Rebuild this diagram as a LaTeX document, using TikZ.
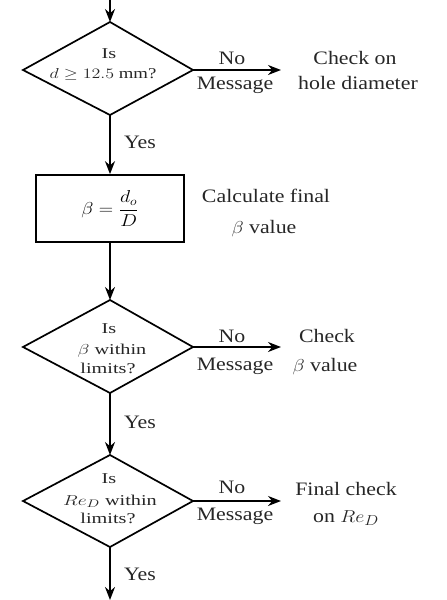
\documentclass[tikz,border=0pt]{standalone}
\usepackage{fontspec}
\setmainfont{Liberation Serif}
\usetikzlibrary{shapes.geometric,arrows.meta}
\newcommand{\wlbl}[1]{\scalebox{1.15}[1]{#1}}
\newcommand{\wsml}[1]{\scalebox{1.35}[1]{#1}}
\begin{document}
\begin{tikzpicture}[x=1pt,y=-1pt,
  line width=1.7pt,
  arr/.style={-{Stealth[length=13pt,width=10pt]}},
  lbl/.style={font=\fontsize{19}{21}\selectfont, text=black!85, inner sep=0pt, anchor=base},
  small/.style={font=\fontsize{15}{17}\selectfont, text=black!85, inner sep=0pt, anchor=base}]
\useasboundingbox (0,0) rectangle (447,600);
% diamond 1
\coordinate (t1) at (110,22); \coordinate (l1) at (23,70); \coordinate (r1) at (193,70); \coordinate (b1) at (110,115);
\draw (t1) -- (r1) -- (b1) -- (l1) -- cycle;
\coordinate (s0) at (110,0);
\draw[arr] (s0) -- (t1);
\node[small] (d1a) at (109,58) {\wsml{Is}};
\node[small] (d1b) at (103,78) {\scalebox{1.25}[1]{$d \geq 12.5$ mm?}};
\coordinate (e1) at (281,70);
\draw[arr] (r1) -- (e1);
\node[lbl] (no1) at (232,64) {\wlbl{No}};
\node[lbl] (m1) at (235,89) {\wlbl{Message}};
\node[lbl] (c1a) at (355,64) {\wlbl{Check on}};
\node[lbl] (c1b) at (358,89) {\wlbl{hole diameter}};
% rectangle
\node[draw, minimum width=148pt, minimum height=67pt, inner sep=0pt] (box) at (110,208.5) {\fontsize{18}{20}\selectfont \scalebox{1.15}[1]{$\beta = \displaystyle\frac{d_o}{D}$}};
\draw[arr] (b1) -- (box.north);
\node[lbl] (y1) at (140,148) {\wlbl{Yes}};
\node[lbl] (cb1) at (266,202) {\wlbl{Calculate final}};
\node[lbl] (cb2) at (264,233) {\wlbl{$\beta$ value}};
% diamond 2
\coordinate (t2) at (110,300); \coordinate (l2) at (23,347); \coordinate (r2) at (193,347); \coordinate (b2) at (110,393);
\draw (t2) -- (r2) -- (b2) -- (l2) -- cycle;
\draw[arr] (box.south) -- (t2);
\node[small] (d2a) at (109,333) {\wsml{Is}};
\node[small] (d2b) at (112,354) {\wsml{$\beta$ within}};
\node[small] (d2c) at (108,373) {\wsml{limits?}};
\coordinate (e2) at (281,347);
\draw[arr] (r2) -- (e2);
\node[lbl] (no2) at (232,342) {\wlbl{No}};
\node[lbl] (m2) at (235,370) {\wlbl{Message}};
\node[lbl] (c2a) at (327,342) {\wlbl{Check}};
\node[lbl] (c2b) at (325,371) {\wlbl{$\beta$ value}};
% diamond 3
\coordinate (t3) at (110,455); \coordinate (l3) at (23,501); \coordinate (r3) at (193,501); \coordinate (b3) at (110,547);
\draw (t3) -- (r3) -- (b3) -- (l3) -- cycle;
\draw[arr] (b2) -- (t3);
\node[lbl] (y2) at (140,428) {\wlbl{Yes}};
\node[small] (d3a) at (109,483) {\wsml{Is}};
\node[small] (d3b) at (110,505) {\wsml{$Re_D$ within}};
\node[small] (d3c) at (108,523) {\wsml{limits?}};
\coordinate (e3) at (281,501);
\draw[arr] (r3) -- (e3);
\node[lbl] (no3) at (232,493) {\wlbl{No}};
\node[lbl] (m3) at (235,520) {\wlbl{Message}};
\node[lbl] (c3a) at (346,495) {\wlbl{Final check}};
\node[lbl] (c3b) at (346,522) {\wlbl{on $Re_D$}};
\coordinate (e4) at (110,600);
\draw[arr] (b3) -- (e4);
\node[lbl] (y3) at (140,580) {\wlbl{Yes}};
\end{tikzpicture}
\end{document}
